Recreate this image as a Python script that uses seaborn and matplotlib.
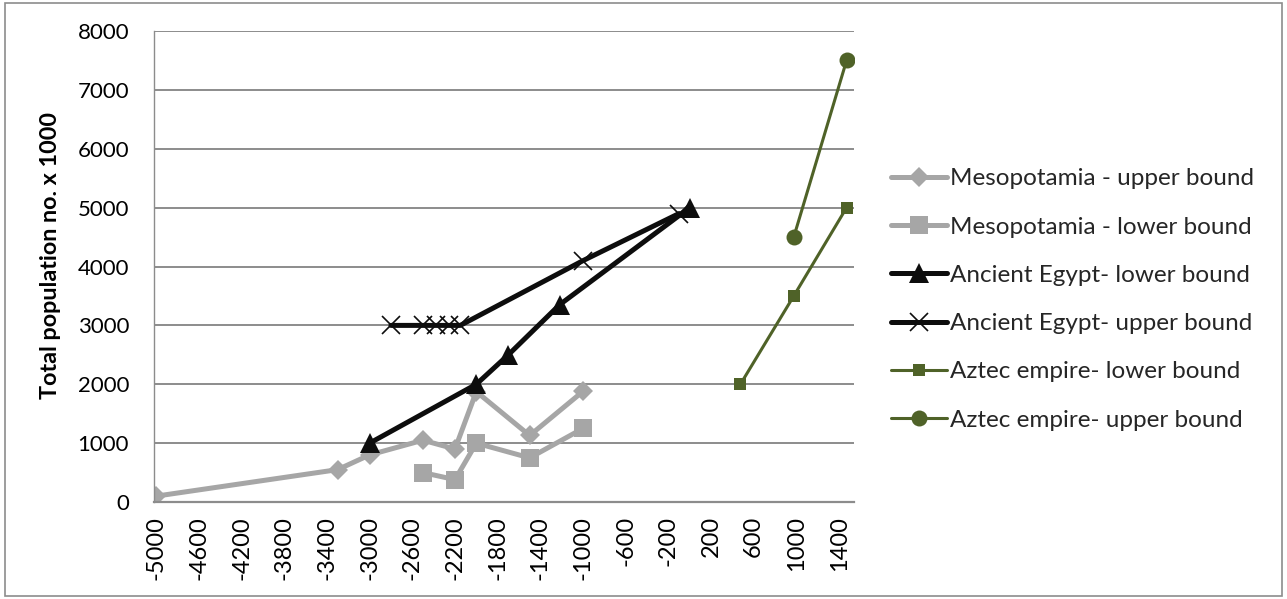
import matplotlib
matplotlib.use("Agg")
import matplotlib.pyplot as plt
import seaborn as sns
from matplotlib.patches import Rectangle

# Population estimates (thousands) by year
meso_upper_x = [-5000, -3300, -3000, -2500, -2200, -2000, -1500, -1000]
meso_upper_y = [100, 550, 800, 1050, 900, 1875, 1130, 1880]

meso_lower_x = [-2500, -2200, -2000, -1500, -1000]
meso_lower_y = [500, 380, 1000, 750, 1250]

egypt_lower_x = [-3000, -2000, -1700, -1220, 0]
egypt_lower_y = [1000, 2000, 2500, 3350, 5000]

egypt_upper_x = [-2800, -2500, -2380, -2260, -2150, -1000, -100]
egypt_upper_y = [3000, 3000, 3000, 3000, 3000, 4100, 4900]

aztec_lower_x = [475, 975, 1470]
aztec_lower_y = [2000, 3500, 5000]

aztec_upper_x = [975, 1470]
aztec_upper_y = [4500, 7500]

series_labels = [
    "Mesopotamia - upper bound",
    "Mesopotamia - lower bound",
    "Ancient Egypt- lower bound",
    "Ancient Egypt- upper bound",
    "Aztec empire- lower bound",
    "Aztec empire- upper bound",
]

x_ticks = list(range(-5000, 1401, 400))
y_ticks = list(range(0, 8001, 1000))

sns.set_theme(style="white")
plt.rcParams["font.family"] = ["Lato", "DejaVu Sans"]

fig = plt.figure(figsize=(12.87, 5.99), dpi=100)
ax = fig.add_axes([0.1197, 0.1619, 0.5439, 0.7863])

grey = "#A6A6A6"
black = "#0D0D0D"
green = "#4F6228"

sns.lineplot(x=meso_upper_x, y=meso_upper_y, ax=ax, sort=False, color=grey,
             linewidth=3.6, marker="D", markersize=10.5, markeredgewidth=0,
             label=series_labels[0])
sns.lineplot(x=meso_lower_x, y=meso_lower_y, ax=ax, sort=False, color=grey,
             linewidth=3.6, marker="s", markersize=13, markeredgewidth=0,
             label=series_labels[1])
sns.lineplot(x=egypt_lower_x, y=egypt_lower_y, ax=ax, sort=False, color=black,
             linewidth=3.6, marker="^", markersize=15, markeredgewidth=0,
             label=series_labels[2])
sns.lineplot(x=egypt_upper_x, y=egypt_upper_y, ax=ax, sort=False, color=black,
             linewidth=3.6, marker="x", markersize=12.5, markeredgewidth=1.2,
             markeredgecolor=black, label=series_labels[3])
sns.lineplot(x=aztec_lower_x, y=aztec_lower_y, ax=ax, sort=False, color=green,
             linewidth=2.2, marker="s", markersize=9, markeredgewidth=0,
             label=series_labels[4])
sns.lineplot(x=aztec_upper_x, y=aztec_upper_y, ax=ax, sort=False, color=green,
             linewidth=2.2, marker="o", markersize=11.5, markeredgewidth=0,
             label=series_labels[5])

ax.set_xlim(-5020, 1540)
ax.set_ylim(0, 8000)
ax.set_xticks(x_ticks)
ax.set_yticks(y_ticks)
ax.set_xticklabels([str(v) for v in x_ticks], rotation=90, fontsize=17,
                   color="#000000")
ax.set_yticklabels([str(v) for v in y_ticks], fontsize=16, color="#000000")
ax.tick_params(axis="x", length=0, pad=10)
ax.tick_params(axis="y", length=0, pad=18)

ax.yaxis.grid(True, color="#8C8C8C", linewidth=1.4)
ax.xaxis.grid(False)
ax.set_axisbelow(True)
for side in ["top", "right"]:
    ax.spines[side].set_visible(False)
ax.spines["left"].set_color("#8C8C8C")
ax.spines["left"].set_linewidth(1.0)
ax.spines["bottom"].set_color("#8C8C8C")
ax.spines["bottom"].set_linewidth(1.6)

ax.set_ylabel("Total population no. x 1000", fontsize=16.8, fontweight="bold",
              color="#000000")
ax.yaxis.set_label_coords(-0.133, 0.523)

handles, labels = ax.get_legend_handles_labels()
ax.legend(handles, labels, loc="center left", bbox_to_anchor=(0.685, 0.5),
          bbox_transform=fig.transFigure, frameon=False, fontsize=17.5,
          handlelength=2.3, handletextpad=0.1, labelspacing=1.12,
          borderaxespad=0)

fig.patches.append(Rectangle((0.004, 0.005), 0.992, 0.99, transform=fig.transFigure,
                             fill=False, edgecolor="#8C8C8C", linewidth=1.2))

fig.savefig("out.png", dpi=100)
